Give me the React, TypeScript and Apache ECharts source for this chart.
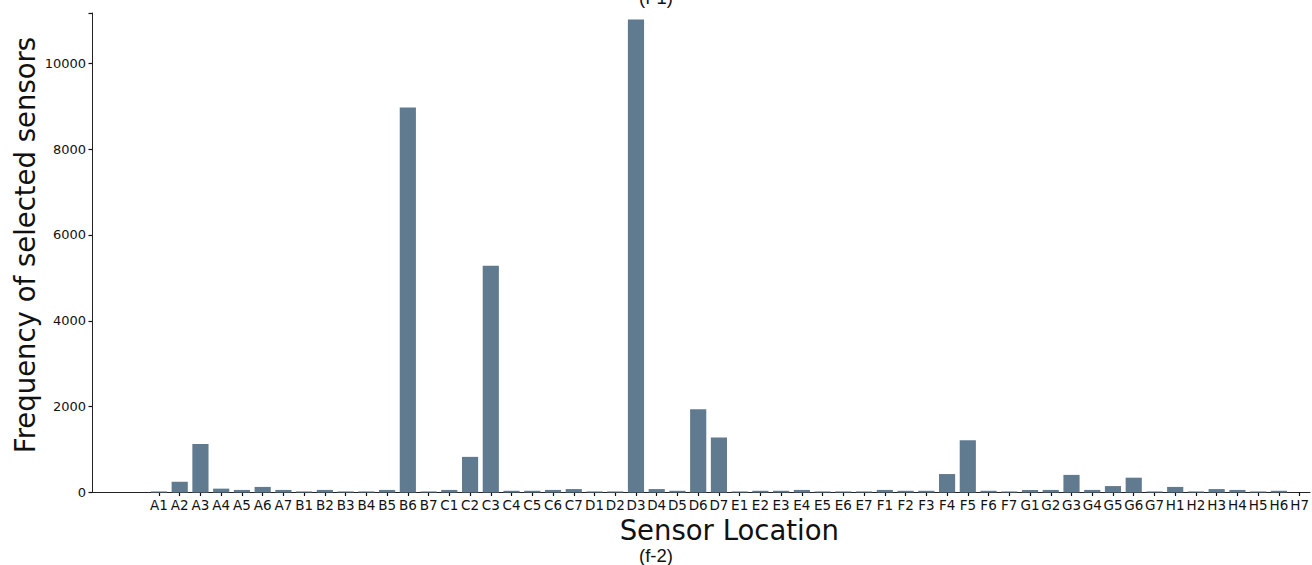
import React, { useEffect, useRef } from "react";
import * as echarts from "echarts";

// Sensor grid positions A1..H7
const rows = ["A", "B", "C", "D", "E", "F", "G", "H"];
const cols = [1, 2, 3, 4, 5, 6, 7];
const sensorLocations = rows.flatMap((r) => cols.map((c) => `${r}${c}`));

// How often each sensor was selected, one row of the grid per array
const freqA = [25, 250, 1130, 90, 60, 130, 60];
const freqB = [25, 60, 25, 25, 60, 8970, 25];
const freqC = [60, 830, 5280, 40, 40, 60, 80];
const freqD = [25, 25, 11020, 80, 40, 1940, 1280];
const freqE = [25, 40, 40, 60, 25, 25, 25];
const freqF = [60, 40, 40, 430, 1220, 40, 25];
const freqG = [60, 60, 410, 60, 150, 345, 25];
const freqH = [130, 25, 80, 60, 25, 40, 0];
const frequencies = [...freqA, ...freqB, ...freqC, ...freqD, ...freqE, ...freqF, ...freqG, ...freqH];

const yTicks = [0, 2000, 4000, 6000, 8000, 10000];

const FONT = "DejaVu Sans";

export default function App() {
  const ref = useRef<HTMLDivElement>(null);

  useEffect(() => {
    if (!ref.current) return;
    const chart = echarts.init(ref.current, null, { renderer: "svg" });
    const gridLeft = 148.6;
    const spineX = 92;
    const baseY = 492.5;
    chart.setOption({
      animation: false,
      backgroundColor: "#ffffff",
      grid: { left: gridLeft, right: 2, top: 13, bottom: 565 - baseY },
      xAxis: {
        type: "category",
        data: sensorLocations,
        name: "Sensor Location",
        nameLocation: "middle",
        nameGap: 16,
        nameTextStyle: { fontFamily: FONT, fontSize: 27.5, color: "#111", lineHeight: 28 },
        axisLine: { show: true, lineStyle: { color: "#222", width: 1 } },
        axisTick: { show: true, alignWithLabel: true, length: 3.5, lineStyle: { color: "#111", width: 1.2 } },
        axisLabel: { fontFamily: FONT, fontSize: 13.5, color: "#111", margin: 5, interval: 0 },
        splitLine: { show: false },
      },
      yAxis: {
        type: "value",
        min: 0,
        max: 11170,
        offset: gridLeft - spineX,
        interval: 2000,
        axisLine: { show: true, lineStyle: { color: "#222", width: 1 } },
        axisTick: { show: true, length: 3.5, lineStyle: { color: "#111", width: 1.2 } },
        axisLabel: {
          fontFamily: FONT,
          fontSize: 13,
          color: "#111",
          margin: 6,
          formatter: (v: number) => (yTicks.includes(v) ? String(v) : ""),
        },
        splitLine: { show: false },
      },
      series: [
        {
          type: "bar",
          data: frequencies,
          barCategoryGap: "22%",
          itemStyle: { color: "#607b8f" },
        },
      ],
      graphic: [
        {
          type: "line",
          shape: { x1: spineX, y1: baseY, x2: gridLeft, y2: baseY },
          style: { stroke: "#222", lineWidth: 1 },
        },
        {
          type: "text",
          x: 25,
          y: 245,
          rotation: Math.PI / 2,
          style: {
            text: "Frequency of selected sensors",
            fontFamily: FONT,
            fontSize: 27.5,
            fill: "#111",
            align: "center",
            verticalAlign: "middle",
          },
        },
        {
          type: "text",
          x: 656,
          y: 555.5,
          style: {
            text: "(f-2)",
            fontFamily: "Liberation Sans",
            fontSize: 18.5,
            fill: "#111",
            align: "center",
            verticalAlign: "middle",
          },
        },
        {
          type: "text",
          x: 656,
          y: -3,
          style: {
            text: "(f-1)",
            fontFamily: "Liberation Sans",
            fontSize: 18.5,
            fill: "#111",
            align: "center",
            verticalAlign: "middle",
          },
        },
      ],
    });
    return () => chart.dispose();
  }, []);

  return (
    <div
      ref={ref}
      style={{ position: "fixed", left: 0, top: 0, width: 1312, height: 565 }}
    />
  );
}
